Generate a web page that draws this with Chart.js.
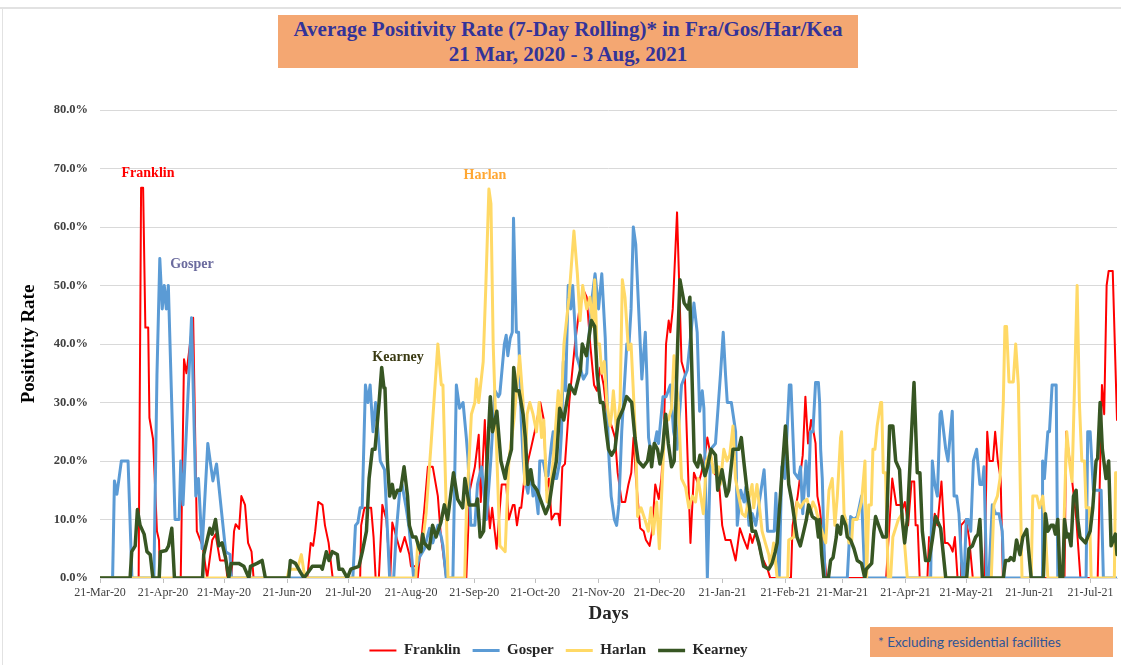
<!DOCTYPE html>
<html>
<head>
<meta charset="utf-8">
<script src="https://cdn.jsdelivr.net/npm/chart.js@4.4.0/dist/chart.umd.min.js"></script>
<style>
body { margin:0; background:#fff; }
#wrap { position:relative; width:1121px; height:665px; overflow:hidden; }
#chart { position:absolute; left:0; top:0; }
.frameTop { position:absolute; left:0; top:7px; width:1121px; border-top:2px solid #e2e2e2; }
.frameLeft { position:absolute; left:2px; top:7px; height:658px; border-left:1px solid #e2e2e2; }
#title { position:absolute; left:278px; top:15px; width:580px; height:53px; background:#F4A772; color:#333399;
  font:bold 21px/25px 'Liberation Serif', serif; text-align:center; padding-top:2px; box-sizing:border-box; }
.lbl { position:absolute; font:bold 14px 'Liberation Serif', serif; transform:translate(-50%,-50%); white-space:nowrap; }
#note { position:absolute; left:870px; top:627px; width:243px; height:30px; background:#F4A772; color:#2F5597;
  font:13.5px/30px Lato, sans-serif; padding-left:8px; box-sizing:border-box; }
</style>
</head>
<body>
<div id="wrap">
<canvas id="chart" width="1121" height="668"></canvas>
<div class="frameTop"></div><div class="frameLeft"></div>
<div id="title">Average Positivity Rate (7-Day Rolling)* in Fra/Gos/Har/Kea<br>21 Mar, 2020 - 3 Aug, 2021</div>
<div class="lbl" style="left:148px;top:173px;color:#FF0000">Franklin</div>
<div class="lbl" style="left:192px;top:264px;color:#6B6B9E">Gosper</div>
<div class="lbl" style="left:485px;top:175px;color:#FFA733">Harlan</div>
<div class="lbl" style="left:398px;top:357px;color:#3A3A12">Kearney</div>
<div id="note">* Excluding residential facilities</div>
</div>
<script>
// day 0 = 21-Mar-2020, day 500 = 3-Aug-2021
let tickDays = [0,31,61,92,122,153,184,214,245,275,306,337,365,396,426,457,487];
let tickLabels = ['21-Mar-20','21-Apr-20','21-May-20','21-Jun-20','21-Jul-20','21-Aug-20','21-Sep-20','21-Oct-20',
  '21-Nov-20','21-Dec-20','21-Jan-21','21-Feb-21','21-Mar-21','21-Apr-21','21-May-21','21-Jun-21','21-Jul-21'];
let seriesNames = ['Franklin','Gosper','Harlan','Kearney'];

// [day, positivity %]
let franklin = [[0,0],[19,0],[20.2,66.7],[21.2,66.7],[22.3,42.8],[23.7,42.8],[24.3,27.4],[26.1,23.7],[28,8],[29,6.5],[29.5,0],
[39.7,0],[41.3,37.4],[42.5,35],[45.8,44.5],[47.6,8],[50.4,5.5],[52.7,0],[55.2,6.5],[56.8,7.5],[59,3],[61.8,3],[62.6,0],[64.6,0],
[65.9,8],[66.7,9.2],[68.4,8.4],[69.5,14],[71.3,12.5],[72.8,6],[74.5,4.5],[75.5,0],[101.9,0],[103.6,6],[104.8,5.5],[105.8,8],
[107.3,13],[109.4,12.5],[110.6,9],[112.4,6],[114.4,0],[127.9,0],[128.4,9],[130,12],[133.3,12],[134.5,7],[135.5,0],[137.1,0],
[138.8,12.5],[140.8,10],[142.7,0],[143.7,9.5],[145.7,7],[147.7,4.5],[149.8,7],[152.1,4],[152.9,2],[155.4,2],[156.2,0],[159.5,12],
[161.2,19],[163.6,19],[166.1,14],[167.5,7.5],[168.6,4.5],[170.2,0],[180.1,0],[181.8,15],[184.3,19],[186.2,24.5],[187.2,13],
[189.2,27],[190.5,14],[191.7,8.5],[192.8,12],[195,5],[197.5,16],[199.7,16],[201,10],[203,12.5],[203.8,12.5],[205,9],[206.3,12],
[207.1,12],[208.8,17.5],[212.1,22.5],[213.7,25],[215.4,28],[216.5,30],[218.2,27],[219.5,15],[220.7,17],[222,10],[223.6,11],
[225.3,11],[226.1,9],[227.3,19],[228.6,19.5],[230.7,30],[233.5,40],[235.7,46],[238,49],[239.3,48],[241,40],[242.9,33],[244.3,32],
[245.9,36],[247.6,33],[249.2,28],[251.5,26],[253.2,24],[254.5,18],[256.5,13],[258.2,13],[259.8,16],[261.2,18],[262.3,24],
[263.5,17],[265.6,8.5],[267.3,8],[268.4,6.5],[270.2,5.5],[271.4,8],[273,16],[274.7,13.5],[276,17],[277.1,23],[278.3,40],
[279.6,44],[280.4,42],[281.6,46],[283.7,62.5],[285.9,37],[287.5,35],[290.3,6],[292,18],[294.1,16],[295.3,17.5],[297,20],
[298.6,24],[301.8,18],[304.2,17],[305.9,9],[307.5,6.5],[310,6.5],[312.5,3],[314.6,8.5],[316.6,6.5],[318.3,5],[319.6,7.5],
[320.7,6],[322.4,8],[324.9,4],[328.2,1.5],[329.5,0],[339.7,0],[340.5,9],[343,14],[345.5,21],[346.8,31],[348.1,23],[349.6,27],
[350.8,25],[351.8,23],[352.7,14],[353.8,12],[355.2,8],[357.1,0],[386.5,0],[389.5,17],[391.5,12.5],[393.2,12.5],[394.8,12],
[395.7,13],[397.3,9],[399,16.5],[400.3,16.5],[401,9],[402,9],[403,0],[406.8,0],[407.6,7],[408.8,6],[410.4,11],[411.7,9],
[413.7,16.5],[415.4,6],[416.7,6],[418,5.5],[419.2,4.5],[420.3,7],[421.6,0],[422.9,0],[423.3,9],[424.6,9.5],[425.8,10],
[427.4,6.5],[429.1,0],[434.8,0],[436.2,25],[437.3,20],[439,20],[440.1,25],[441.4,20],[442.8,17],[443.9,0],[474.2,0],[475,25],
[477.5,18],[480,10],[482,0],[490.5,0],[492.6,33],[493.7,28],[494.9,50],[495.9,52.5],[497.9,52.5],[500,27]];

let gosper = [[0,0],[6.2,0],[7.1,16.6],[8.3,14.3],[10.5,20],[13.8,20],[15.7,0],[26.5,0],[28,34.6],[29.4,54.6],[30.6,46],[31.6,50],
[32.6,46],[33.6,50],[36.9,10],[38.9,10],[39.7,20],[40.8,12.5],[45,44.5],[47.1,14],[48.4,17],[50.2,5],[53,23],[55.5,16.6],
[57.3,19.5],[61.8,4.5],[63.9,4],[64.6,0],[124.3,0],[125.6,9],[126.8,9.5],[127.9,12],[128.9,12],[130.5,33],[131.7,30],[132.8,33],
[134.2,25],[135.5,30],[137.8,20],[139.9,18.5],[141.6,6],[142.4,0],[144.4,0],[145.7,8],[147.4,15],[148.5,16],[150.5,12],[152,8.5],
[152.9,5],[154.2,0],[157,3.5],[159.5,5],[162,8.5],[163.6,6],[166.1,9],[167.8,7],[168.6,5.5],[170.2,0],[173.5,0],[175.2,33],
[176.8,29],[178.5,30],[180.1,24],[180.9,20.5],[182.3,9],[184.3,9],[185.6,16],[187.6,19],[190,10],[192.1,20],[194.2,32],[195.9,31],
[196.6,31.5],[198.8,40],[199.7,41.5],[200.5,38],[201.7,41],[202.7,42],[203.3,61.5],[204.7,42],[205.8,42],[207.1,27],[208,20.5],
[208.8,17],[210.4,14.5],[211.6,18.5],[212.9,14],[214,15.5],[215.4,11],[216.2,20],[217.9,20],[219.2,17.5],[220.3,17.5],[222,23],
[222.8,25],[223.6,17],[224.5,17],[226.1,20],[226.9,25],[227.8,37],[228.9,32],[230.2,50],[231.4,46],[232.4,50],[234.3,38],
[237.7,34],[239.3,35],[240.1,40],[241.8,47.5],[243.4,52],[245.1,46],[246.7,52],[248.4,41],[250,22],[251.3,14],[252.9,10],[254,9],
[255.1,12.5],[256.5,25],[259,40],[260.1,40],[261.1,46],[262.2,60],[263.4,57],[265.6,40],[266.4,34],[268.1,42],[268.9,34],
[269.7,24],[271,21],[272.2,22],[273.8,25],[274.6,23],[276.8,31],[278.3,31],[280.4,33],[282,25],[283.7,22],[285.9,33],[288.7,35.5],
[292,47],[293.6,42],[294.8,28.5],[296.1,32],[296.9,29],[297.8,14],[298.6,0],[300.2,22],[302.6,23],[305.1,35],[306.4,42],
[307.5,35],[308.4,30],[310.4,30],[312.5,25],[313.3,9],[315,15],[316.6,13],[317.5,15.5],[319.1,9],[320.7,11],[322.4,9],
[326.5,18.5],[328.2,8],[331.5,8],[332.3,14.5],[333.9,0],[335.2,19],[336.7,17],[338.9,33],[339.7,33],[341.4,18],[343.4,17],
[344.4,19],[345.5,11],[347.1,20],[348.3,14],[349.3,25],[350.5,25],[351.8,33.4],[353.2,33.4],[353.8,30],[354.3,22],[355.1,17],
[356.4,0],[367.4,0],[369,10.5],[370.7,10],[372.3,10.5],[374.4,14],[376,0],[408.4,0],[409.2,20],[410.4,16],[411.7,14],[413,28],
[413.6,28.5],[415.8,22],[416.9,20],[419,28.5],[419.9,14],[421.2,14],[422.3,11],[424,0],[424.8,0],[425.9,10],[426.9,10],[428.1,8],
[429.4,20],[431,22],[432.6,16],[433.8,16],[434.6,19],[435.9,0],[437,0],[438.7,12.5],[440.3,11],[442,11],[443.6,8],[444.4,0],
[463.2,0],[463.4,20],[464.3,17],[466,25],[466.8,25],[468.1,33],[470.1,33],[470.9,0],[484.8,0],[485.6,25],[486.8,25],[488.4,15],
[492.2,15],[493.3,0],[500,0]];

let harlan = [[0,0],[92,0],[93,1.5],[97,1.5],[99,4],[100.5,0.5],[101.5,0],[155.3,0],[156.2,6],[158.6,6],[160.3,11],[162.8,23],
[166.1,40],[167.8,33],[168.6,33],[169.6,20],[171.1,0],[179.3,0],[180.1,11],[182.6,28],[184.3,30],[185.1,34],[186.2,30],
[188.4,37],[189.7,50],[191.2,66.5],[192.2,64],[193.3,40],[195,22],[196.6,5.5],[199.2,4.5],[201,20],[201.7,22],[203.5,27],
[206.3,38],[208,30],[208.8,16],[210,28],[211.3,30],[212.9,28],[214.6,25],[215.9,30],[217.1,24],[218.2,27],[219.2,18],[219.8,13],
[221.1,14],[222.8,20],[225.3,32],[226.6,28],[228.1,40],[230.6,48],[233,59.3],[234.7,52],[236,44],[237.3,50],[239.3,46],
[240.9,48],[242.3,43],[243.2,51],[244.3,40],[245.6,40],[246.7,35],[247.9,37],[249.2,30],[250.8,26],[251.5,28],[252.4,32],
[254,25],[255.7,30],[256.8,51],[258.1,48],[259.8,39],[261.1,40],[262.2,32],[263.4,23],[264.3,10.5],[266,12],[267.9,10],
[269.6,8],[270.9,12],[272,7.5],[273.7,13],[275,5],[276.1,14],[277.7,27],[279.4,27],[281,29],[282.2,38],[284.3,30],[285.9,17],
[287.9,15.5],[289.5,12],[291.2,14],[292.8,13],[294.1,17],[296.6,11],[298.2,20],[300.1,21.5],[301.7,18],[304.2,19],[305,16],
[306.7,22],[308.3,20],[309.6,21],[311.2,26],[312.4,17],[314,14],[315.7,11],[317.3,10.5],[318.1,12],[320.6,16],[321.4,12],
[323,16],[325.5,8],[327.1,6],[328.8,4],[329.6,2],[331.2,6],[332.9,0],[338.1,0],[338.6,6.5],[341.1,7],[342.7,13],[344.3,12],
[346,13],[347.6,13.5],[349.2,11],[350.5,13],[351.8,12],[353.5,9.5],[356.8,6],[358.4,15],[360,17],[361.3,9],[362.5,14],
[364.1,24],[364.6,25],[365.8,11],[366.6,10],[368.2,6],[369.5,6],[370.2,10],[372.3,10],[374.4,13],[376.1,20],[376.9,0],
[378,12.5],[379.2,12.5],[380,22],[381,22],[382.1,26],[383.8,30],[384.3,30],[385.1,18],[386.2,18],[387.5,0],[388.7,0],[389.8,7],
[392.5,10],[394.4,11],[396.9,0],[438.2,0],[439.5,12.5],[441.2,14],[442.5,17],[444.1,30],[444.9,43],[445.7,43],[446.9,33.5],
[449,33.5],[450.2,40],[451.5,33],[453.3,0],[457.8,0],[458.6,14],[460.6,14],[461.9,12],[463.5,14],[464.3,11],[466,0],[473.3,0],
[474.2,12.5],[475.3,25],[476.6,20],[477.9,16.5],[480.4,50],[481.5,30],[482.7,20],[484,20],[484.8,12],[486.4,12],[487.3,0],
[498.7,0],[499.3,18],[500,18]];

let kearney = [[0,0],[14.8,0],[15.6,4.5],[17.3,5.5],[18.4,11.7],[19.7,9],[21.7,7.5],[23.1,4.5],[24.7,4],[26,0],[29.1,0],[29.7,4.5],
[32.5,4.7],[33.7,5.5],[35.3,8.5],[36.6,0],[50.4,0],[51,4],[54,8.5],[55.1,7.5],[56.8,10],[58.4,5.5],[60,6],[61.7,3.5],[63.3,0],
[64.5,2.5],[68.2,2.5],[70.7,2],[73.2,0],[74,2],[77.2,2.5],[79.7,3],[81.3,0],[92.8,0],[93.6,3],[96.1,2.5],[98.5,1],[100.3,0],
[104.4,2],[108.5,2],[109.3,1.5],[111.3,4.5],[112.6,3],[114.2,4.5],[116.7,4],[117.5,1.5],[119.2,1.5],[121.6,0],[123.3,1.5],
[127.3,2],[129,4.5],[131,8],[132.3,17],[133.9,22],[135.2,22],[137.2,30],[138.5,36],[139.6,32.5],[140.1,32.5],[141.3,20],
[142.4,14],[143.7,16],[144.7,13.7],[146.2,15],[147.8,15],[149.5,19],[151.2,14],[152.1,9],[153.7,7],[155.3,7],[157,5],[157.8,4.5],
[158.6,7.5],[159.4,6],[161.9,5],[163.5,9],[165.2,7],[167.6,9.5],[169.3,12.5],[170.9,10],[173.8,18],[175.8,13.5],[178.3,12],
[179.4,17],[181.5,12.5],[184.8,12.5],[185.6,13.5],[186.9,7],[188.6,8],[191.9,31],[193,25],[195.1,28.5],[197.1,20],[199.2,17],
[200,19],[202.3,22],[203.4,36],[204.7,32],[206,32],[208,28],[209.1,24],[210.4,16],[211.8,18.5],[212.9,16],[214.9,15],
[217.5,12.5],[219.1,11],[220.8,12.5],[222.7,17],[224.4,20],[226,29],[228,27],[230.9,33],[233.4,31.5],[236.2,35.5],[237.1,40],
[239.1,38],[241.6,44],[243.2,43],[244.4,35],[246,30],[247.3,30],[248.9,25],[250,22],[251.5,21],[253.2,22],[254.8,27],[257.3,29],
[258.9,31],[261.4,30],[263,24],[264.6,20],[267.1,19],[269.2,20],[270.4,22.5],[271.2,19],[272.5,23],[274.1,22],[275.3,19.5],
[276.6,22],[278.1,28],[279.4,23],[281,19],[282.3,20],[284,40],[285.1,51],[287.2,47],[289.2,46],[290,48],[292.2,20],[293.8,19],
[295,21],[297.4,17.5],[298.7,19],[300.4,22],[302.6,21],[303.7,15],[305.8,18.5],[308,14],[309.1,15],[311.2,22],[314,22],
[315.3,24],[316.5,20],[318.1,15],[319.4,12],[320.6,8],[322.2,8],[323.9,6],[326.3,2],[328.8,1.5],[330.4,2.5],[332,4.5],[332.9,6],
[335.3,18],[337,26],[338.6,16],[340.2,13],[341.4,10],[342.7,7],[344.3,5.5],[346,8],[347.3,10],[348.4,12.5],[350.2,10.5],
[352.2,10],[353.2,7],[353.8,10],[354.8,4],[355.9,0],[358.1,0],[359.2,3],[360.4,3.5],[362,7],[362.5,9],[364.1,7.5],[364.9,10.5],
[366.6,9],[367.4,7],[369,6.5],[370.7,5],[372.3,3],[374.4,2.5],[376,0],[376.7,1.5],[379.4,2.5],[380.5,8],[381.3,10.5],[383.8,8],
[384.9,7],[386.6,7],[388.2,26],[389.8,26],[391.2,20],[393.1,18.5],[394.4,10],[395.6,6],[396.9,10],[400.2,33.4],[401.8,18],
[403.1,18],[404.3,8],[405.9,3],[407.6,3],[409.2,6.5],[410.8,10.5],[413.3,8.5],[415.8,0],[426.1,0],[427.2,5],[428.9,5.5],
[430.5,7],[431.7,7.5],[432.6,10],[433.8,0],[444.1,0],[445.2,3],[446.9,3],[447.7,3.5],[449.3,3],[450.6,6.5],[452.3,4],[453.7,7],
[455.6,8.3],[457.8,0],[463.8,0],[464.8,11],[466,8],[467.6,9],[468.7,9],[469.7,7.5],[470.9,10],[472,0],[473.3,0],[474.2,10],
[475.3,7],[476.3,7.5],[477.4,5.5],[478.6,14],[479.9,15],[480.7,10],[481.8,7],[483.2,6.5],[484.5,6],[485.6,7],[486.8,8],
[488.1,12],[489.7,20],[490.5,20.5],[491.7,30],[492.8,22],[494.6,17],[495.9,20],[497.1,5.5],[499.2,7.5],[500,4]];

let colors = ['#FF0000','#5B9BD5','#FFD966','#375623'];
let widths = [2, 3, 3, 3.5];
let allSeries = [franklin, gosper, harlan, kearney];
let serif = "'Liberation Serif', serif";

let ds = allSeries.map(function(s, i){
    return {
        label: seriesNames[i],
        data: s.map(p => ({x: p[0], y: p[1]})),
        borderColor: colors[i],
        backgroundColor: colors[i],
        borderWidth: widths[i],
        pointRadius: 0,
        tension: 0,
        borderJoinStyle: 'round',
        borderCapStyle: 'round',
        order: 4 - i   // later series drawn on top, like the original
    };
});

new Chart(document.querySelector('#chart').getContext('2d'), {
    type: 'line',
    data: { datasets: ds },
    options: {
        responsive: false,
        animation: false,
        layout: { padding: { left: 0, right: 4, top: 110, bottom: 0 } },
        plugins: {
            tooltip: { enabled: false },
            legend: {
                position: 'bottom',
                labels: {
                    usePointStyle: true,
                    pointStyle: 'line',
                    pointStyleWidth: 27,
                    padding: 12,
                    color: '#262626',
                    font: { family: serif, size: 15, weight: 'bold' },
                    sort: (a, b) => a.datasetIndex - b.datasetIndex
                }
            }
        },
        scales: {
            x: {
                type: 'linear', min: 0, max: 500,
                afterBuildTicks: function(scale){ scale.ticks = tickDays.map(v => ({value: v})); },
                afterFit: function(scale){ scale.height = 53; },
                grid: { drawOnChartArea: false, drawTicks: true, tickLength: 5, color: '#bfbfbf' },
                border: { color: '#d9d9d9' },
                ticks: {
                    autoSkip: false, maxRotation: 0, minRotation: 0, padding: 3,
                    color: '#404040', font: { family: serif, size: 12 },
                    callback: function(v){ let k = tickDays.indexOf(v); return k < 0 ? '' : tickLabels[k]; }
                },
                title: { display: true, text: 'Days', color: '#262626',
                         font: { family: serif, size: 19, weight: 'bold' }, padding: { top: 0, bottom: 5.6 } }
            },
            y: {
                min: 0, max: 80,
                afterFit: function(scale){ scale.width = 100; },
                grid: { color: '#d9d9d9', drawTicks: false },
                border: { display: false },
                ticks: {
                    stepSize: 10, padding: 12, color: '#404040',
                    font: { family: serif, size: 12.5, weight: 'bold' },
                    callback: v => v.toFixed(1) + '%'
                },
                title: { display: true, text: 'Positivity Rate', color: '#000',
                         font: { family: serif, size: 19, weight: 'bold' }, padding: { top: 18, bottom: 0 } }
            }
        }
    }
});
</script>
</body>
</html>
